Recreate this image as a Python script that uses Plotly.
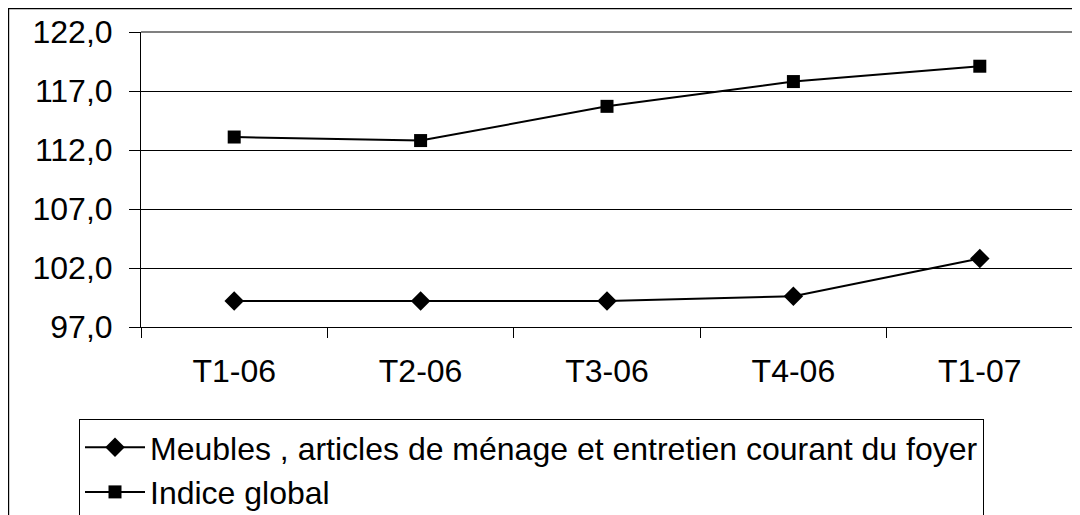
import plotly.graph_objects as go

categories = ["T1-06", "T2-06", "T3-06", "T4-06", "T1-07"]
meubles = [99.2, 99.2, 99.2, 99.6, 102.8]
indice_global = [113.1, 112.8, 115.7, 117.8, 119.1]
name_meubles = "Meubles , articles de ménage et entretien courant du foyer"
name_global = "Indice global"
y_ticks = [97, 102, 107, 112, 117, 122]

FONT = "Liberation Sans, Arial, sans-serif"
FS = 32

# the page body adds an 8px offset; work in screen pixels and subtract it
OFF = 8
W, H = 1080 - OFF, 515 - OFF
L, R, T, B = 141 - OFF, 1073 - OFF, 32 - OFF, 327 - OFF
pw, ph = R - L, B - T

def px(x):
    return (x - OFF - L) / pw

def py(y):
    return (B - (y - OFF)) / ph

fig = go.Figure()
fig.add_trace(go.Scatter(
    x=categories, y=meubles, name=name_meubles, mode="lines+markers",
    line=dict(color="black", width=2),
    marker=dict(symbol="diamond", size=15, color="black"),
))
fig.add_trace(go.Scatter(
    x=categories, y=indice_global, name=name_global, mode="lines+markers",
    line=dict(color="black", width=2),
    marker=dict(symbol="square", size=13, color="black"),
))

shapes = [
    # outer chart border (extends beyond the image on right/bottom)
    dict(type="rect", xref="paper", yref="paper",
         x0=px(8.6), x1=px(1100), y0=py(560), y1=py(8.6),
         line=dict(color="black", width=1.2), layer="below"),
    # gray plot area border top/right
    dict(type="path", xref="paper", yref="paper",
         path="M 0,1 L 1,1 L 1,0",
         line=dict(color="#808080", width=2), layer="above"),
]

fig.update_layout(
    template="none",
    width=W, height=H,
    margin=dict(l=L, r=W - R, t=T, b=H - B, autoexpand=False),
    paper_bgcolor="white", plot_bgcolor="white",
    separators=", ",
    font=dict(family=FONT, size=FS, color="black"),
    showlegend=True,
    legend=dict(
        x=px(79), y=py(419), xanchor="left", yanchor="top",
        bordercolor="black", borderwidth=1, bgcolor="white",
        font=dict(family=FONT, size=FS, color="black"),
        itemwidth=60, tracegroupgap=0,
    ),
    shapes=shapes,
)
fig.update_xaxes(
    type="category", range=[-0.5, 4.5], automargin=False,
    showline=True, linecolor="black", linewidth=1,
    ticks="outside", tickson="boundaries", ticklen=10, tickcolor="black",
    showgrid=False, ticklabelstandoff=16,
    tickfont=dict(family=FONT, size=FS, color="black"),
)
fig.update_yaxes(
    range=[97, 122], tickvals=y_ticks, tickformat=".1f", automargin=False,
    showline=True, linecolor="black", linewidth=1,
    ticks="outside", ticklen=11, tickcolor="black",
    showgrid=True, gridcolor="black", gridwidth=1,
    zeroline=False, ticklabelstandoff=10,
    tickfont=dict(family=FONT, size=FS, color="black"),
)

fig.write_html("out.html")
